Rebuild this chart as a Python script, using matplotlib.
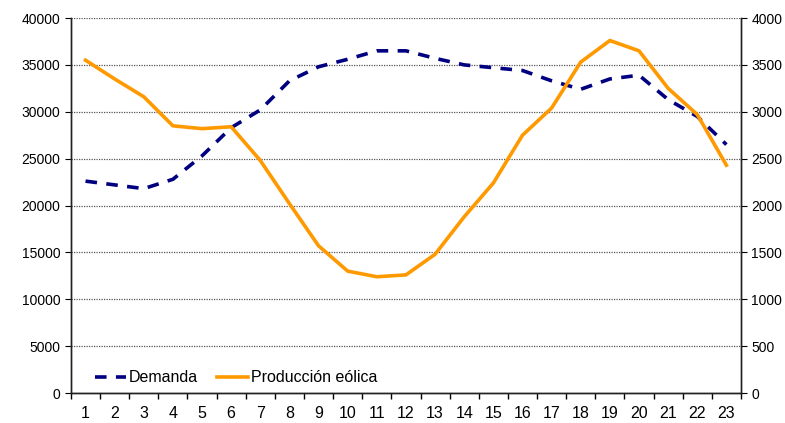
import matplotlib.pyplot as plt
import numpy as np

plt.rcParams['font.family'] = ['Liberation Sans', 'DejaVu Sans']

horas = list(range(1, 24))
demanda = [22600, 22200, 21800, 22800, 25300, 28300, 30200, 33300, 34800, 35600,
           36500, 36500, 35700, 35000, 34700, 34400, 33300, 32400, 33500, 33900,
           31300, 29500, 26500]
eolica = [3550, 3350, 3160, 2850, 2820, 2840, 2480, 2020, 1570, 1300,
          1240, 1260, 1480, 1880, 2240, 2750, 3040, 3530, 3760, 3650,
          3250, 2970, 2430]

fig = plt.figure(figsize=(7.85, 4.23), dpi=100)
ax = fig.add_axes([0.0904, 0.0709, 0.8535, 0.8865])
ax2 = ax.twinx()

l1, = ax.plot(horas, demanda, color='#000080', lw=2.6, ls=(0, (3.2, 2.6)), label='Demanda')
l2, = ax2.plot(horas, eolica, color='#FF9900', lw=2.6, label='Producción eólica')

ax.set_xlim(0.5, 23.5)
ax.set_ylim(0, 40000)
ax2.set_ylim(0, 4000)
ax.set_yticks(np.arange(0, 40001, 5000))
ax2.set_yticks(np.arange(0, 4001, 500))

ax.set_xticks(np.arange(0.5, 24, 1))
ax.set_xticklabels([])
ax.set_xticks(horas, minor=True)
ax.set_xticklabels([str(h) for h in horas], minor=True, fontsize=11.5)
ax.tick_params(axis='x', which='major', direction='out', length=4, width=1)
ax.tick_params(axis='x', which='minor', length=0, pad=9)

ax.tick_params(axis='y', direction='out', length=4, labelsize=10)
ax2.tick_params(axis='y', direction='out', length=4, labelsize=10)

ax.yaxis.grid(True, color='#555555', ls=(0, (1, 1)), lw=0.9)
ax.set_axisbelow(True)

for a in (ax, ax2):
    a.spines['top'].set_visible(False)
    for s in ('left', 'right', 'bottom'):
        a.spines[s].set_color('#222222')
        a.spines[s].set_linewidth(1)

ax.legend([l1, l2], ['Demanda', 'Producción eólica'], loc='lower left',
          bbox_to_anchor=(0.027, 0.004), borderaxespad=0, ncol=2, frameon=False,
          fontsize=11.5, handlelength=1.9, handletextpad=0.2, columnspacing=1.2)

fig.savefig('out.png', dpi=100)
